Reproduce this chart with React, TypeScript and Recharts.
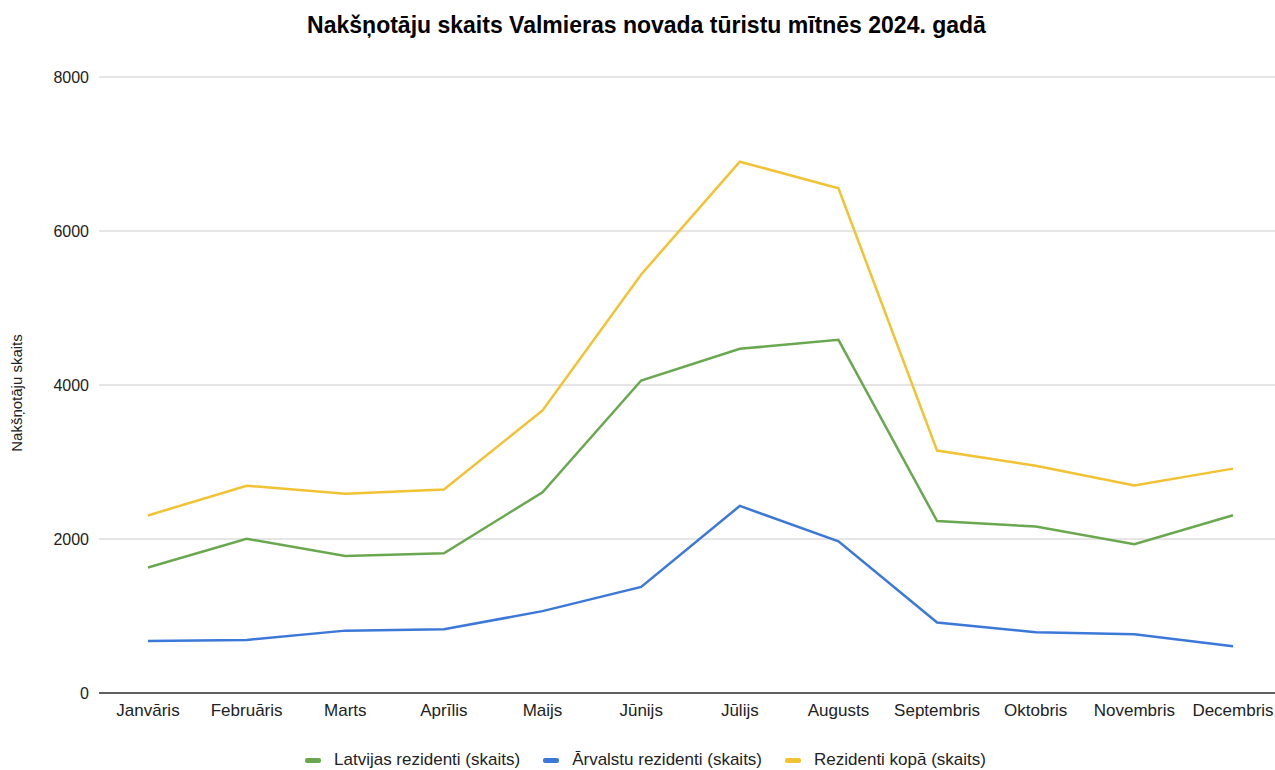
import { LineChart, Line, XAxis, YAxis, CartesianGrid, Legend } from "recharts";

const months = [
  "Janvāris",
  "Februāris",
  "Marts",
  "Aprīlis",
  "Maijs",
  "Jūnijs",
  "Jūlijs",
  "Augusts",
  "Septembris",
  "Oktobris",
  "Novembris",
  "Decembris",
];

const latvian = [1630, 2003, 1779, 1815, 2607, 4058, 4470, 4586, 2233, 2162, 1932, 2308];
const foreign = [676, 689, 810, 828, 1063, 1378, 2430, 1970, 915, 788, 762, 606];
const total = [2306, 2692, 2589, 2643, 3670, 5436, 6900, 6556, 3148, 2950, 2694, 2914];

const yTicks = [0, 2000, 4000, 6000, 8000];

const data = months.map((m, i) => ({
  month: m,
  latvian: latvian[i],
  foreign: foreign[i],
  total: total[i],
}));

const series = [
  { key: "latvian", name: "Latvijas rezidenti (skaits)", color: "#6aa84f" },
  { key: "foreign", name: "Ārvalstu rezidenti (skaits)", color: "#3c78d8" },
  { key: "total", name: "Rezidenti kopā (skaits)", color: "#f1c232" },
];

const FONT = "'Liberation Sans', Arial, sans-serif";

function LegendContent() {
  return (
    <div
      style={{
        display: "flex",
        justifyContent: "center",
        gap: 23,
        fontFamily: FONT,
        fontSize: 17,
        lineHeight: "20px",
        color: "#222",
        paddingLeft: 16,
      }}
    >
      {series.map((s) => (
        <div key={s.key} style={{ display: "flex", alignItems: "center" }}>
          <span
            style={{
              display: "inline-block",
              width: 16,
              height: 5,
              borderRadius: 2,
              background: s.color,
              marginRight: 13,
            }}
          />
          {s.name}
        </div>
      ))}
    </div>
  );
}

// rotated y axis title, placed by hand like the sheet export
function YTitle() {
  return (
    <text
      x={22}
      y={393}
      transform="rotate(-90, 22, 393)"
      textAnchor="middle"
      fill="#222"
      fontSize={15}
      fontFamily={FONT}
    >
      Nakšņotāju skaits
    </text>
  );
}

export default function App() {
  return (
    <div
      style={{
        position: "absolute",
        left: 0,
        top: 0,
        width: 1275,
        height: 770,
        background: "#fff",
        fontFamily: FONT,
      }}
    >
      <div
        style={{
          position: "absolute",
          top: 12,
          left: 0,
          width: 1293,
          textAlign: "center",
          fontSize: 23,
          fontWeight: "bold",
          color: "#000",
        }}
      >
        Nakšņotāju skaits Valmieras novada tūristu mītnēs 2024. gadā
      </div>
      <LineChart
        width={1275}
        height={770}
        data={data}
        margin={{ top: 77, right: 0, left: 0, bottom: 0 }}
      >
        <CartesianGrid vertical={false} stroke="#cccccc" />
        <XAxis
          dataKey="month"
          padding={{ left: 49, right: 42 }}
          tickLine={false}
          axisLine={{ stroke: "#333333", strokeWidth: 1.5 }}
          tick={{ fill: "#222", fontSize: 17, fontFamily: FONT }}
          tickMargin={5}
          height={57}
          interval={0}
        />
        <YAxis
          width={99}
          domain={[0, 8000]}
          ticks={yTicks}
          tickLine={false}
          axisLine={false}
          tick={{ fill: "#222", fontSize: 16, fontFamily: FONT }}
          tickMargin={4}
          label={<YTitle />}
        />
        <Legend verticalAlign="bottom" height={20} content={<LegendContent />} />
        {series.map((s) => (
          <Line
            key={s.key}
            type="linear"
            dataKey={s.key}
            name={s.name}
            stroke={s.color}
            strokeWidth={2.5}
            dot={false}
            activeDot={false}
            isAnimationActive={false}
          />
        ))}
      </LineChart>
    </div>
  );
}
